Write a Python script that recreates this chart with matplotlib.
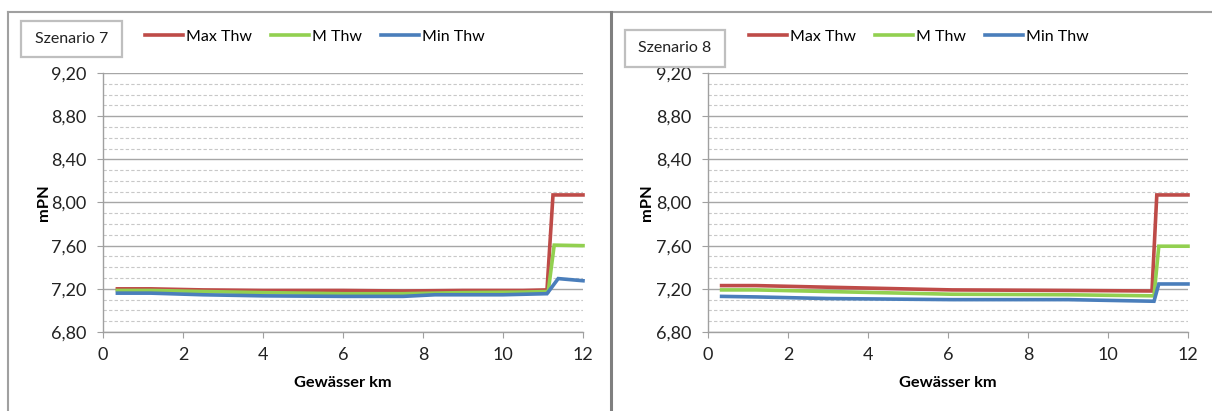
import matplotlib
matplotlib.use("Agg")
import matplotlib.pyplot as plt
from matplotlib.lines import Line2D
from matplotlib.patches import Rectangle
from matplotlib.ticker import MultipleLocator, FuncFormatter

plt.rcParams['font.family'] = ['Lato', 'DejaVu Sans']

# ---- data ----
series_names = ["Max Thw", "M Thw", "Min Thw"]
series_colors = ["#BE4B48", "#92D050", "#4A7EBB"]

# Szenario 7
s7_km_max = [0.36, 1.2, 2.5, 4, 6, 7.5, 9, 10.5, 11.1, 11.25, 12]
s7_max = [7.20, 7.20, 7.19, 7.185, 7.185, 7.18, 7.185, 7.185, 7.19, 8.07, 8.07]
s7_km_m = [0.36, 1.2, 2.5, 4, 6, 7.5, 9, 10.5, 11.13, 11.28, 12]
s7_m = [7.185, 7.185, 7.175, 7.165, 7.155, 7.155, 7.165, 7.17, 7.175, 7.605, 7.60]
s7_km_min = [0.36, 1.2, 2.5, 4, 6, 7.5, 8.3, 10, 11.1, 11.38, 12]
s7_min = [7.16, 7.16, 7.145, 7.135, 7.13, 7.13, 7.145, 7.145, 7.155, 7.295, 7.275]

# Szenario 8
s8_km_max = [0.34, 1.2, 3, 6.1, 9, 11.1, 11.22, 12]
s8_max = [7.23, 7.23, 7.215, 7.19, 7.185, 7.18, 8.07, 8.07]
s8_km_m = [0.34, 1.2, 3, 6.1, 9, 11.15, 11.27, 12]
s8_m = [7.19, 7.19, 7.175, 7.15, 7.145, 7.135, 7.595, 7.595]
s8_km_min = [0.34, 1.2, 3, 6.1, 9, 11.15, 11.27, 12]
s8_min = [7.13, 7.125, 7.11, 7.10, 7.10, 7.085, 7.245, 7.245]

scenario_titles = ["Szenario 7", "Szenario 8"]
y_label = "mPN"
x_label = "Gewässer km"

panels = [
    (s7_km_max, s7_max, s7_km_m, s7_m, s7_km_min, s7_min),
    (s8_km_max, s8_max, s8_km_m, s8_m, s8_km_min, s8_min),
]

W, H = 1212, 411
fig = plt.figure(figsize=(W / 100, H / 100), dpi=100)

def fx(px):
    return px / W

def fy(py):
    return 1 - py / H

axes_px = [(103, 583), (708, 1188)]
box_px = [(21, 21, 122, 57), (625, 30, 725, 67)]
legend_px = [(145, 37), (749, 37)]
ylabel_x = [51, 654]

for i, (xs_max, ys_max, xs_m, ys_m, xs_min, ys_min) in enumerate(panels):
    x0, x1 = axes_px[i]
    ax = fig.add_axes([fx(x0), fy(332), fx(x1 - x0), fy(73) - fy(332)])
    ax.set_xlim(0, 12)
    ax.set_ylim(6.80, 9.20)
    ax.yaxis.set_major_locator(MultipleLocator(0.4))
    ax.yaxis.set_minor_locator(MultipleLocator(0.1))
    ax.xaxis.set_major_locator(MultipleLocator(2))
    ax.yaxis.set_major_formatter(FuncFormatter(lambda v, p: f"{v:.2f}".replace(".", ",")))
    ax.grid(which='major', axis='y', color='#a6a6a6', lw=1.0, ls='-')
    ax.grid(which='minor', axis='y', color='#c8c8c8', lw=0.8, ls=(0, (3, 2)))
    ax.set_axisbelow(True)
    for s in ['top', 'right']:
        ax.spines[s].set_visible(False)
    for s in ['left', 'bottom']:
        ax.spines[s].set_color('#a0a0a0')
        ax.spines[s].set_linewidth(1.0)
    ax.tick_params(axis='both', which='major', direction='out', length=4,
                   color='#a0a0a0', labelsize=13, labelcolor='#222222')
    ax.tick_params(axis='y', which='minor', length=0)
    ax.tick_params(axis='x', pad=7)
    ax.tick_params(axis='y', pad=8)

    lines = []
    for (xs, ys), c, n in zip([(xs_max, ys_max), (xs_m, ys_m), (xs_min, ys_min)],
                              series_colors, series_names):
        l, = ax.plot(xs, ys, color=c, lw=2.6, label=n, solid_joinstyle='miter', clip_on=False)
        lines.append(l)

    ax.set_xlabel(x_label, fontsize=11.8, fontweight='bold', labelpad=9)
    ax.set_ylabel(y_label, fontsize=11.8, fontweight='bold')
    ax.yaxis.set_label_coords((ylabel_x[i] - x0) / (x1 - x0), 0.5)

    lx, ly = legend_px[i]
    fig.legend(lines, series_names, loc='center left',
               bbox_to_anchor=(fx(lx), fy(ly)), ncol=3, frameon=False,
               fontsize=11.5, handlelength=2.4, handletextpad=0.15,
               columnspacing=1.2, borderpad=0, borderaxespad=0)

    bx0, by0, bx1, by1 = box_px[i]
    fig.patches.append(Rectangle((fx(bx0), fy(by1)), fx(bx1 - bx0), fy(by0) - fy(by1),
                                 transform=fig.transFigure, fill=False,
                                 edgecolor='#bfbfbf', lw=1.6))
    fig.text(fx((bx0 + bx1) / 2), fy((by0 + by1) / 2), scenario_titles[i],
             ha='center', va='center', fontsize=11.5, color='#222222')

# panel borders
fig.add_artist(Line2D([fx(8), fx(1212)], [fy(12), fy(12)], transform=fig.transFigure,
                      color='#a0a0a0', lw=1.5))
fig.add_artist(Line2D([fx(8), fx(8)], [fy(12), fy(411)], transform=fig.transFigure,
                      color='#a0a0a0', lw=1.5))
fig.add_artist(Line2D([fx(610.5), fx(610.5)], [fy(12), fy(411)], transform=fig.transFigure,
                      color='#7f7f7f', lw=2.2))

fig.savefig("out.png", dpi=100)
